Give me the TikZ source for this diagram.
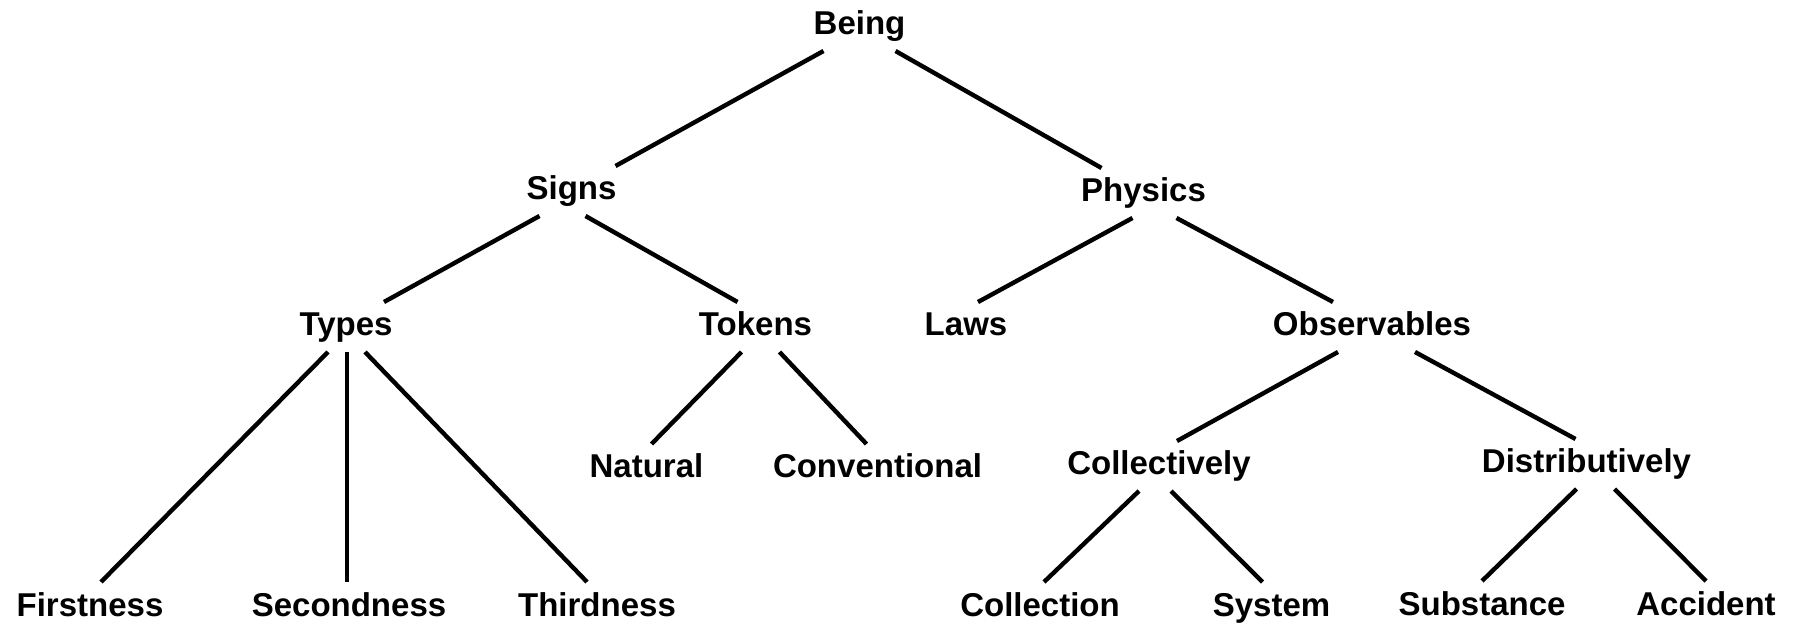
\documentclass[tikz,border=0pt]{standalone}
\usepackage{fontspec}
\setmainfont{Liberation Sans}
\usetikzlibrary{positioning}
\tikzset{
	concept/.style={font=\fontsize{16.5}{18}\selectfont\bfseries, anchor=base, text height=13pt, text depth=4pt,
		inner xsep=1pt, inner ysep=4pt, outer sep=0},
	branch/.style={line width=2.2pt}
}

\begin{document}
\begin{tikzpicture}[x=0.5pt, y=-0.5pt]
	\useasboundingbox (0,0) rectangle (1798,624);
	% top levels
	\node[concept] (being) at (859.5, 35) {Being};
	\node[concept] (signs) at (571.5, 200) {Signs};
	\node[concept] (physics) at (1143.5, 202) {Physics};
	
	\node[concept] (types) at (346, 336) {Types};
	\node[concept] (tokens) at (755.5, 336) {Tokens};
	\node[concept] (laws) at (966, 336) {Laws};
	\node[concept] (observables) at (1372, 336) {Observables};
	
	\node[concept] (natural) at (646.5, 478) {Natural};
	\node[concept] (conventional) at (877.5, 478) {Conventional};
	\node[concept] (collectively) at (1159, 475) {Collectively};
	\node[concept] (distributively) at (1586.5, 473) {Distributively};
	
	% leaves
	\node[concept] (firstness) at (90, 616) {Firstness};
	\node[concept] (secondness) at (349, 616) {Secondness};
	\node[concept] (thirdness) at (597, 616) {Thirdness};
	\node[concept] (collection) at (1040, 616) {Collection};
	\node[concept] (system) at (1271.5, 616) {System};
	\node[concept] (substance) at (1482, 615) {Substance};
	\node[concept] (accident) at (1706, 615) {Accident};
	
	\draw[branch] ([xshift=-18pt]being.south) -- ([xshift=22pt]signs.north);
	\draw[branch] ([xshift=18pt]being.south) -- ([xshift=-21pt]physics.north);
	\draw[branch] ([xshift=-16pt]signs.south) -- ([xshift=19pt]types.north);
	\draw[branch] ([xshift=7pt]signs.south) -- ([xshift=-9pt]tokens.north);
	\draw[branch] ([xshift=-5.5pt]physics.south) -- ([xshift=6pt]laws.north);
	\draw[branch] ([xshift=16.5pt]physics.south) -- ([xshift=-19.5pt]observables.north);
	\draw[branch] ([xshift=-9pt]types.south) -- ([xshift=5.5pt]firstness.north);
	\draw[branch] ([xshift=0.5pt]types.south) -- ([xshift=-1pt]secondness.north);
	\draw[branch] ([xshift=9.5pt]types.south) -- ([xshift=-5pt]thirdness.north);
	\draw[branch] ([xshift=-7pt]tokens.south) -- ([xshift=2.5pt]natural.north);
	\draw[branch] ([xshift=12pt]tokens.south) -- ([xshift=-5.5pt]conventional.north);
	\draw[branch] ([xshift=-17pt]observables.south) -- ([xshift=9pt]collectively.north);
	\draw[branch] ([xshift=21.5pt]observables.south) -- ([xshift=-5.5pt]distributively.north);
	\draw[branch] ([xshift=-10pt]collectively.south) -- ([xshift=2pt]collection.north);
	\draw[branch] ([xshift=6pt]collectively.south) -- ([xshift=-4.5pt]system.north);
	\draw[branch] ([xshift=-5pt]distributively.south) -- (substance.north);
	\draw[branch] ([xshift=14pt]distributively.south) -- (accident.north);
\end{tikzpicture}
\end{document}
